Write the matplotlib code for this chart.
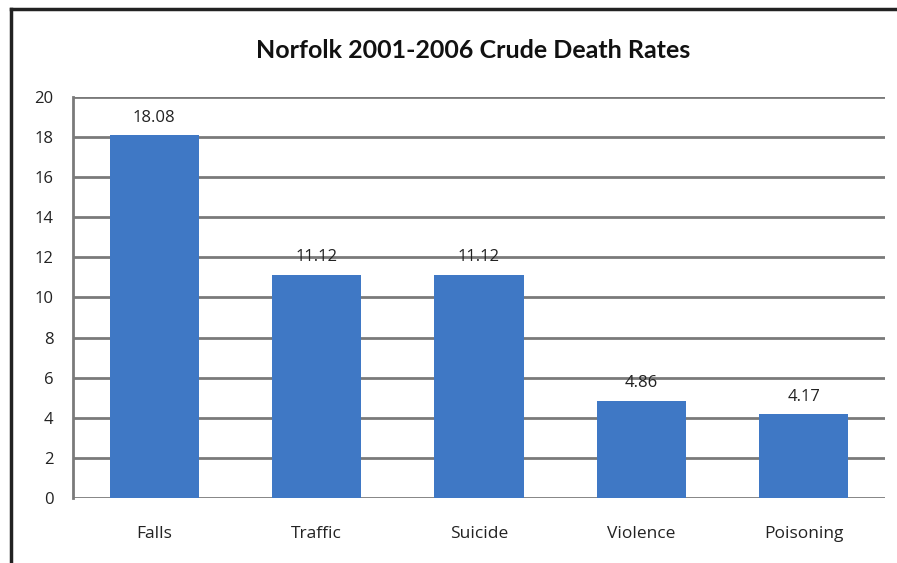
import numpy as np
import matplotlib.pyplot as plt
from matplotlib.lines import Line2D

categories = ['Falls', 'Traffic', 'Suicide', 'Violence', 'Poisoning']
rates = [18.08, 11.12, 11.12, 4.86, 4.17]
rate_labels = ['18.08', '11.12', '11.12', '4.86', '4.17']
yticks = list(range(0, 21, 2))

plt.rcParams['font.family'] = ['Open Sans', 'DejaVu Sans']

fig = plt.figure(figsize=(8.97, 5.63), dpi=100)
ax = fig.add_axes([0.0814, 0.1155, 0.9052, 0.7122])

x = np.arange(len(categories))
ax.bar(x, rates, width=0.55, color='#3f78c5', zorder=3)
for xi, v, lab in zip(x, rates, rate_labels):
    ax.annotate(lab, (xi, v), xytext=(0, 7), textcoords='offset points',
                ha='center', va='bottom', fontsize=12, color='#222222')

ax.set_xlim(-0.5, len(categories) - 0.5)
ax.set_ylim(0, 20)
ax.set_yticks(yticks)
ax.set_yticklabels([str(t) for t in yticks], fontsize=12, color='#222222')
ax.set_xticks(x)
ax.set_xticklabels(categories, fontsize=12.5, color='#222222')
ax.tick_params(axis='y', length=0, pad=14)
ax.tick_params(axis='x', length=0, pad=20)
ax.grid(axis='y', color='#7a7a7a', linewidth=2, zorder=0)
for s in ['top', 'right', 'bottom']:
    ax.spines[s].set_visible(False)
ax.spines['left'].set_color('#7a7a7a')
ax.spines['left'].set_linewidth(2)

fig.text(0.527, 0.91, 'Norfolk 2001-2006 Crude Death Rates', ha='center',
         va='center', fontsize=18, fontweight='bold', color='#111111',
         family=['Lato', 'DejaVu Sans'])

# outer frame (top and left edges)
fig.add_artist(Line2D([11 / 897, 11 / 897], [0, 1 - 9 / 563],
                      color='#222222', linewidth=2.5, transform=fig.transFigure))
fig.add_artist(Line2D([11 / 897, 1], [1 - 9 / 563, 1 - 9 / 563],
                      color='#222222', linewidth=2.5, transform=fig.transFigure))

plt.savefig('out.png', dpi=100)
